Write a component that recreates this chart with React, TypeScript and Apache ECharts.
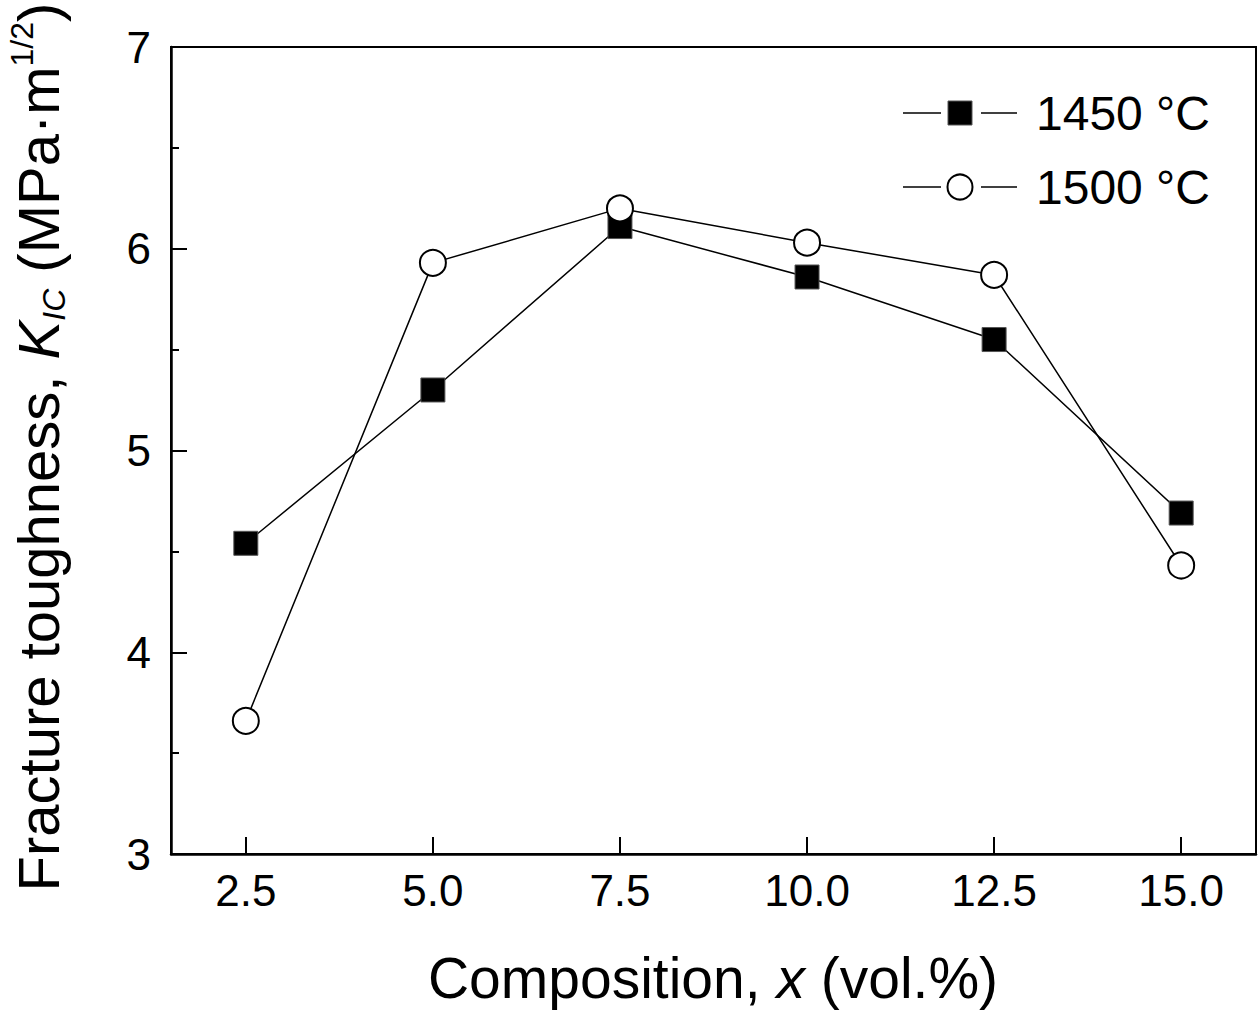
import React, { useEffect, useRef } from "react";
import * as echarts from "echarts";

const compositions = [2.5, 5.0, 7.5, 10.0, 12.5, 15.0];
const toughness1450 = [4.54, 5.30, 6.11, 5.86, 5.55, 4.69];
const toughness1500 = [3.66, 5.93, 6.20, 6.03, 5.87, 4.43];
const xTicks = [2.5, 5.0, 7.5, 10.0, 12.5, 15.0];
const seriesNames = ["1450 °C", "1500 °C"];

const FONT = "'Liberation Sans', Arial, Helvetica, sans-serif";

function legendRow(y: number, label: string, marker: any) {
  return [
    { type: "line", shape: { x1: 903, y1: y, x2: 941, y2: y }, style: { stroke: "#000", lineWidth: 1.5 } },
    { type: "line", shape: { x1: 981, y1: y, x2: 1017, y2: y }, style: { stroke: "#000", lineWidth: 1.5 } },
    marker,
    {
      type: "text",
      x: 1036,
      y: y,
      style: { text: label, font: `48px ${FONT}`, fill: "#000", align: "left", verticalAlign: "middle" },
    },
  ];
}

export default function App() {
  const ref = useRef<HTMLDivElement>(null);
  useEffect(() => {
    document.body.style.margin = "0";
    const chart = echarts.init(ref.current!, null, { renderer: "svg" });
    const option: any = {
      animation: false,
      backgroundColor: "#ffffff",
      textStyle: { fontFamily: FONT, color: "#000" },
      grid: {
        left: 171,
        top: 47,
        right: 4,
        bottom: 158,
        show: true,
        borderColor: "#000",
        borderWidth: 2,
        backgroundColor: "transparent",
      },
      xAxis: {
        type: "value",
        min: 1.5,
        max: 16,
        axisLine: { show: true, lineStyle: { color: "#000", width: 2.5 } },
        axisTick: {
          show: true,
          inside: true,
          length: 17,
          lineStyle: { color: "#000", width: 2 },
          customValues: xTicks,
        },
        axisLabel: {
          show: true,
          fontSize: 44,
          fontFamily: FONT,
          color: "#000",
          margin: 14,
          customValues: xTicks,
          formatter: (v: number) => v.toFixed(1),
        },
        splitLine: { show: false },
      },
      yAxis: {
        type: "value",
        min: 3,
        max: 7,
        interval: 1,
        axisLine: { show: true, lineStyle: { color: "#000", width: 2.5 } },
        axisTick: { show: true, inside: true, length: 16, lineStyle: { color: "#000", width: 2 } },
        minorTick: { show: true, splitNumber: 2, length: 8, lineStyle: { color: "#000", width: 2 } },
        axisLabel: { fontSize: 44, fontFamily: FONT, color: "#000", margin: 20 },
        splitLine: { show: false },
      },
      series: [
        {
          name: seriesNames[0],
          type: "line",
          data: compositions.map((x, i) => [x, toughness1450[i]]),
          symbol: "rect",
          symbolSize: 24,
          lineStyle: { color: "#000", width: 1.5 },
          itemStyle: { color: "#000", borderColor: "#555", borderWidth: 1 },
          z: 2,
        },
        {
          name: seriesNames[1],
          type: "line",
          data: compositions.map((x, i) => [x, toughness1500[i]]),
          symbol: "circle",
          symbolSize: 26,
          lineStyle: { color: "#000", width: 1.5 },
          itemStyle: { color: "#fff", borderColor: "#000", borderWidth: 2 },
          z: 3,
        },
      ],
      graphic: [
        ...legendRow(113, seriesNames[0], {
          type: "rect",
          shape: { x: 948, y: 101, width: 24, height: 24 },
          style: { fill: "#000", stroke: "#555", lineWidth: 1 },
        }),
        ...legendRow(187, seriesNames[1], {
          type: "circle",
          shape: { cx: 960, cy: 187, r: 12.5 },
          style: { fill: "#fff", stroke: "#000", lineWidth: 2 },
        }),
        {
          type: "text",
          x: 713,
          y: 978,
          style: {
            text: "Composition, {i|x} (vol.%)",
            font: `57px ${FONT}`,
            fill: "#000",
            align: "center",
            verticalAlign: "middle",
            rich: {
              i: { fontSize: 57, fontStyle: "italic", fontFamily: FONT, fill: "#000" },
            },
          },
        },
        {
          type: "text",
          x: 38,
          y: 447,
          rotation: Math.PI / 2,
          style: {
            text: "{a|Fracture toughness, }{k|K}{s|IC}{a| (MPa·m}{p|1/2}{a|)}",
            align: "center",
            verticalAlign: "middle",
            rich: {
              a: { fontSize: 58, fontFamily: FONT, fill: "#000", lineHeight: 64, verticalAlign: "middle" },
              k: { fontSize: 58, fontFamily: FONT, fontStyle: "italic", fill: "#000", lineHeight: 64, verticalAlign: "middle" },
              s: { fontSize: 32, fontFamily: FONT, fontStyle: "italic", fill: "#000", lineHeight: 32, verticalAlign: "bottom" },
              p: { fontSize: 32, fontFamily: FONT, fill: "#000", lineHeight: 32, verticalAlign: "top" },
            },
          },
        },
      ],
    };
    chart.setOption(option);
    return () => chart.dispose();
  }, []);
  return <div ref={ref} style={{ width: 1260, height: 1012 }} />;
}
